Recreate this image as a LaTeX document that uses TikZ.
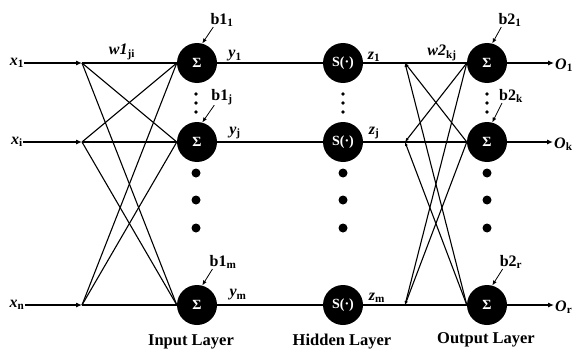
\documentclass[tikz,border=0pt]{standalone}
\usepackage{fontspec}
\setmainfont{Liberation Serif}
\usetikzlibrary{arrows.meta}
\begin{document}
\begin{tikzpicture}[x=1pt,y=-1pt,
  neuron/.style={circle,fill=black,minimum size=40pt,inner sep=0pt,text=white,font=\bfseries\fontsize{14}{14}\selectfont},
  lbl/.style={font=\bfseries\fontsize{16}{16}\selectfont,inner sep=0pt},
  layerlbl/.style={font=\bfseries\fontsize{16.5}{16.5}\selectfont,inner sep=0pt},
  conn/.style={line width=1.1pt},
  inarrow/.style={line width=1.1pt,-{Latex[length=6pt,width=5pt]}},
  backtip/.style={line width=1.1pt,{Latex[length=4pt,width=3pt]}-},
  biasarrow/.style={line width=0.8pt,-{Latex[length=5pt,width=4pt]}},
  smalldot/.style={fill=black},
]
\useasboundingbox (0,0) rectangle (575,353);
% neurons
\node[neuron] (i1) at (197,63) {Σ};
\node[neuron] (i2) at (197,142) {Σ};
\node[neuron] (i3) at (197,305) {Σ};
\node[neuron] (h1) at (343,63) {S(·)};
\node[neuron] (h2) at (343,142) {S(·)};
\node[neuron] (h3) at (343,305) {S(·)};
\node[neuron] (o1) at (487,63) {Σ};
\node[neuron] (o2) at (487,142) {Σ};
\node[neuron] (o3) at (487,305) {Σ};
% branch points
\coordinate (a1) at (82,63);
\coordinate (a2) at (82,142);
\coordinate (a3) at (82,305);
\coordinate (c1) at (405,63);
\coordinate (c2) at (405,142);
\coordinate (c3) at (405,305);
% inputs
\node[lbl] (x1) at (17,63) {\textit{x}\textsubscript{1}};
\node[lbl] (x2) at (17,142) {\textit{x}\textsubscript{i}};
\node[lbl] (x3) at (17,305) {\textit{x}\textsubscript{n}};
\draw[inarrow] (x1.east) -- (a1);
\draw[inarrow] (x2.east) -- (a2);
\draw[inarrow] (x3.east) -- (a3);
% input crossing
\foreach \s in {1,2,3}{
  \foreach \t in {1,2,3}{
    \draw[conn] (a\s) -- (i\t.west);
  }
}
% input to hidden
\draw[conn] (i1) -- (h1);
\draw[conn] (i2) -- (h2);
\draw[conn] (i3) -- (h3);
% hidden to branch
\draw[conn] (h1) -- (c1);
\draw[conn] (h2) -- (c2);
\draw[conn] (h3) -- (c3);
% output crossing
\foreach \s in {1,2,3}{
  \foreach \t in {1,2,3}{
    \ifnum\s=\t
      \draw[conn] (c\s) -- (o\t.west);
    \else
      \draw[backtip] (c\s) -- (o\t.west);
    \fi
  }
}
% outputs
\node[lbl,anchor=west] (O1) at (555,65) {\textit{O}\textsubscript{1}};
\node[lbl,anchor=west] (O2) at (554,144) {\textit{O}\textsubscript{k}};
\node[lbl,anchor=west] (O3) at (555,307) {\textit{O}\textsubscript{r}};
\draw[inarrow] (o1) -- ([xshift=-1pt]O1.west |- o1);
\draw[inarrow] (o2) -- ([xshift=-1pt]O2.west |- o2);
\draw[inarrow] (o3) -- ([xshift=-1pt]O3.west |- o3);
% labels
\node[lbl] (w1) at (122,52) {\textit{w1}\textsubscript{ji}};
\node[lbl] (w2) at (442,53) {\textit{w2}\textsubscript{kj}};
\node[lbl] (y1) at (235,56) {\textit{y}\textsubscript{1}};
\node[lbl] (y2) at (235,133) {\textit{y}\textsubscript{j}};
\node[lbl] (y3) at (238,295) {\textit{y}\textsubscript{m}};
\node[lbl] (z1) at (374,57) {\textit{z}\textsubscript{1}};
\node[lbl] (z2) at (374,133) {\textit{z}\textsubscript{j}};
\node[lbl] (z3) at (377,298) {\textit{z}\textsubscript{m}};
% biases
\node[lbl] (b11) at (222,20) {b1\textsubscript{1}};
\node[lbl] (b12) at (222,97) {b1\textsubscript{j}};
\node[lbl] (b13) at (223,262) {b1\textsubscript{m}};
\node[lbl] (b21) at (510,20) {b2\textsubscript{1}};
\node[lbl] (b22) at (511,96) {b2\textsubscript{k}};
\node[lbl] (b23) at (511,262) {b2\textsubscript{r}};
\draw[biasarrow] ([xshift=3pt]b11.south west) -- (i1.75);
\draw[biasarrow] ([xshift=3pt]b12.south west) -- (i2.75);
\draw[biasarrow] ([xshift=3pt]b13.south west) -- (i3.75);
\draw[biasarrow] ([xshift=3pt]b21.south west) -- (o1.75);
\draw[biasarrow] ([xshift=3pt]b22.south west) -- (o2.75);
\draw[biasarrow] ([xshift=3pt]b23.south west) -- (o3.75);
% dots
\foreach \x in {196,343,487}{
  \foreach \y in {94,103,112}{
    \fill[smalldot] (\x,\y) circle (1.8pt);
  }
  \foreach \y in {173,200,228}{
    \fill[smalldot] (\x,\y) circle (4.5pt);
  }
}
% layer labels
\node[layerlbl] (L1) at (191,342) {Input Layer};
\node[layerlbl] (L2) at (342,342) {Hidden Layer};
\node[layerlbl] (L3) at (486,340) {Output Layer};
\end{tikzpicture}
\end{document}
